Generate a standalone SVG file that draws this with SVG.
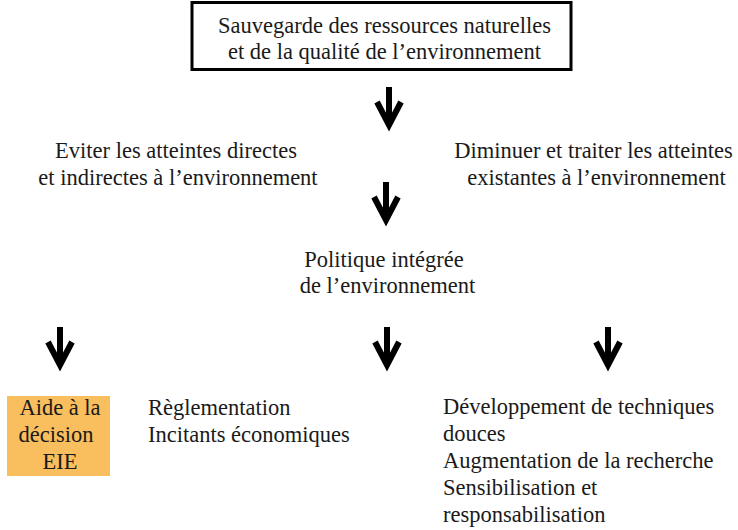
<svg xmlns="http://www.w3.org/2000/svg" xmlns:xlink="http://www.w3.org/1999/xlink" width="738" height="530" viewBox="0 0 738 530">
<style>
text{font-size:22.5px;fill:#1a1a1a}
.c{text-anchor:middle}
.arr{fill:none;stroke:#000;stroke-width:6;stroke-miterlimit:10}
</style>
<defs>
<path id="arrow" class="arr" d="M0,0 V36 M-12,15 L0,38 L12,15"/>
</defs>
<rect width="738" height="530" fill="#fff"/>
<g font-family="'Liberation Serif', Tinos, 'Times New Roman', Times, 'DejaVu Serif', serif">
<g id="n-sauvegarde">
<rect x="192" y="2.5" width="379" height="67" fill="#fff" stroke="#000" stroke-width="3"/>
<text class="c" x="384.5" y="33">Sauvegarde des ressources naturelles</text>
<text class="c" x="384.5" y="59">et de la qualité de l’environnement</text>
</g>
<g id="n-eviter">
<text class="c" x="176" y="158">Eviter les atteintes directes</text>
<text class="c" x="178" y="185">et indirectes à l’environnement</text>
</g>
<g id="n-diminuer">
<text class="c" x="593.5" y="158">Diminuer et traiter les atteintes</text>
<text class="c" x="596.5" y="185">existantes à l’environnement</text>
</g>
<g id="n-politique">
<text class="c" x="384" y="267">Politique intégrée</text>
<text class="c" x="387.5" y="293">de l’environnement</text>
</g>
<g id="n-aide">
<rect x="7" y="396" width="103" height="80" fill="#F9BE5E"/>
<text class="c" x="60" y="415">Aide à la</text>
<text class="c" x="56" y="442">décision</text>
<text class="c" x="60" y="469">EIE</text>
</g>
<g id="n-reglementation">
<text x="148" y="415">Règlementation</text>
<text x="148" y="442">Incitants économiques</text>
</g>
<g id="n-developpement">
<text x="443" y="414">Développement de techniques</text>
<text x="443" y="441">douces</text>
<text x="443" y="468">Augmentation de la recherche</text>
<text x="443" y="495">Sensibilisation et</text>
<text x="443" y="522">responsabilisation</text>
</g>
</g>
<g id="connectors">
<use xlink:href="#arrow" x="389" y="87"/>
<use xlink:href="#arrow" x="386" y="182"/>
<use xlink:href="#arrow" x="60" y="327"/>
<use xlink:href="#arrow" x="387" y="327"/>
<use xlink:href="#arrow" x="608" y="327"/>
</g>
</svg>
